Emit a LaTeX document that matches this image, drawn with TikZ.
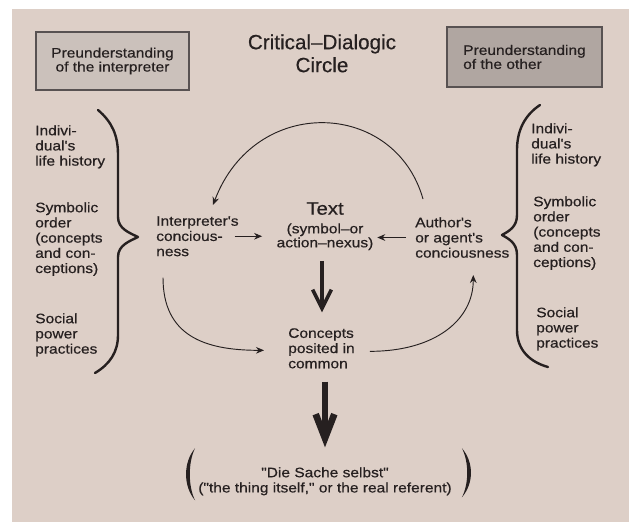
\documentclass[tikz,border=0pt]{standalone}
\usepackage{fontspec}
\setmainfont[FakeBold=0.4]{Liberation Sans}
\newfontfamily\widesans[FakeStretch=1.13,FakeBold=0.5]{Liberation Sans}
\usetikzlibrary{arrows.meta,calc}
\definecolor{paper}{RGB}{221,207,199}
\definecolor{ink}{RGB}{38,32,32}
\definecolor{lightgrey}{RGB}{203,193,187}
\definecolor{darkgrey}{RGB}{176,166,161}
\definecolor{framegrey}{RGB}{88,82,82}

\begin{document}
\begin{tikzpicture}[x=0.75pt,y=0.75pt,yscale=-1,xscale=1,
    label text/.style={font=\widesans\fontsize{10.3}{11.4}\selectfont, text=ink, inner sep=0.75pt},
    pre box/.style={draw=framegrey, line width=0.8pt, font=\widesans\fontsize{10.3}{10.5}\selectfont, text=ink, inner sep=0pt},
    thin arrow/.style={draw=ink, line width=0.7pt, -{Stealth[length=6pt,width=5pt]}},
    thick arrow/.style={draw=ink, line width=2.7pt, -{Straight Barb[length=14pt,width=14pt]}},
    heavy arrow/.style={draw=ink, line width=5pt, -{Straight Barb[length=18pt,width=14pt]}},
    brace line/.style={draw=ink, line width=1.8pt, line cap=round, line join=round}]
        \fill [white] (0,0) rectangle (629,522);
        \fill [paper] (12,9) rectangle (629,522);
        \useasboundingbox (0,0) rectangle (629,522);

        % Text Node
        \draw (322,33) node [anchor=north] [inner sep=0.75pt] [align=center] [font=\fontsize{15.5}{17.2}\selectfont, text=ink] (title) {Critical–Dialogic\\Circle};
        % Text Node
        \draw (112.5,61) node [pre box, fill=lightgrey, minimum width=114.75pt, minimum height=43.5pt] [align=center] (interpbox) {Preunderstanding\\of the interpreter};
        % Text Node
        \draw (524.5,57) node [pre box, fill=darkgrey, minimum width=116.25pt, minimum height=45pt] [align=left] (otherbox) {Preunderstanding\\of the other};

        % Text Node
        \draw (34,124) node [anchor=north west] [label text] [align=left] (lifeL) {Indivi-\\dual's\\life history};
        % Text Node
        \draw (34,201) node [anchor=north west] [label text] [align=left] (orderL) {Symbolic\\order\\(concepts\\and con-\\ceptions)};
        % Text Node
        \draw (34,312) node [anchor=north west] [label text] [align=left] (powerL) {Social\\power\\practices};
        % Text Node
        \draw (530,122) node [anchor=north west] [label text] [align=left] (lifeR) {Indivi-\\dual's\\life history};
        % Text Node
        \draw (532,195) node [anchor=north west] [label text] [align=left] (orderR) {Symbolic\\order\\(concepts\\and con-\\ceptions)};
        % Text Node
        \draw (535,306) node [anchor=north west] [label text] [align=left] (powerR) {Social\\power\\practices};

        % Text Node
        \draw (155,215) node [anchor=north west] [label text] [align=left] (interp) {Interpreter's\\concious-\\ness};
        % Text Node
        \draw (325,201) node [anchor=north] [label text] [align=center] [font=\widesans\fontsize{10.3}{10.5}\selectfont] (textnexus) {{\fontsize{13.5}{14}\selectfont Text}\\[3.5pt](symbol–or\\action–nexus)};
        % Text Node
        \draw (414,216) node [anchor=north west] [label text] [align=left] (author) {Author's\\or agent's\\conciousness};
        % Text Node
        \draw (287,327) node [anchor=north west] [label text] [align=left] (concepts) {Concepts\\posited in\\common};
        % Text Node
        \draw (325,466) node [anchor=north] [label text] [align=center] (sache) {"Die Sache selbst"\\("the thing itself," or the real referent)};

        %Shape: Brace
        \draw [brace line] (98,110) .. controls (112,122) and (118,135) .. (118,155) -- (118,217) .. controls (118,229) and (130,233) .. (138,237) .. controls (130,241) and (118,245) .. (118,257) -- (118,335) .. controls (118,352) and (110,364) .. (95,373);
        %Shape: Brace
        \draw [brace line] (540,105) .. controls (525,115) and (517,130) .. (517,150) -- (517,215) .. controls (517,227) and (509,231) .. (502,235) .. controls (509,239) and (517,243) .. (517,255) -- (517,330) .. controls (517,350) and (530,362) .. (548,367);

        %Straight Lines
        \draw [thin arrow, shorten <=-4pt, shorten >=10pt] (interp.east) -- (interp.east -| textnexus.west);
        %Straight Lines
        \draw [thin arrow, shorten <=6pt, shorten >=2pt] (author.west) -- (author.west -| textnexus.east);
        %Curve Lines
        \draw [thin arrow] ($(author.north west)+(9,-17)$) .. controls +(-28,-99) and +(42,-111) .. ($(interp.north west)+(58,-10)$);
        %Curve Lines
        \draw [thin arrow] ($(interp.south west)+(8,20)$) .. controls +(0,58) and +(-60,0) .. ($(concepts.west)+(-23,2)$);
        %Curve Lines
        \draw [thin arrow] ($(concepts.east)+(14,3)$) .. controls +(65,0) and +(0,45) .. ($(author.south)+(11,16)$);
        %Straight Lines
        \draw [thick arrow, shorten <=7pt, shorten >=11pt] ($(textnexus.south)+(-3,0)$) -- ($(textnexus.south |- concepts.north)+(-3,0)$);
        %Straight Lines
        \draw [heavy arrow, shorten <=9pt, shorten >=14pt] (sache.north |- concepts.south) -- (sache.north);

        %Shape: Parenthesis
        \fill [ink] ($(sache.west)+(-2,-33)$) .. controls +(-12,14) and +(-12,-14) .. ($(sache.west)+(-2,19)$) .. controls +(-7,-14) and +(-7,14) .. ($(sache.west)+(-2,-33)$) -- cycle;
        %Shape: Parenthesis
        \fill [ink] ($(sache.east)+(9,-33)$) .. controls +(12,14) and +(12,-14) .. ($(sache.east)+(9,16)$) .. controls +(7,-14) and +(7,14) .. ($(sache.east)+(9,-33)$) -- cycle;
    \end{tikzpicture}
\end{document}
